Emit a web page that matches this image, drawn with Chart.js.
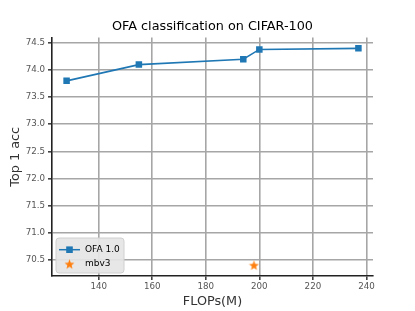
<!DOCTYPE html>
<html>
<head>
<meta charset="utf-8">
<script src="https://cdn.jsdelivr.net/npm/chart.js@4/dist/chart.umd.min.js"></script>
<style>
html,body{margin:0;padding:0;background:#fff;}
canvas{display:block;}
</style>
</head>
<body>
<canvas id="c" width="415" height="311"></canvas>
<script>
// ---- data ----
const ofaLabel = 'OFA 1.0';
const ofaFlops = [128, 155, 194, 200, 237];
const ofaAcc = [73.8, 74.1, 74.2, 74.38, 74.4];
const mbv3Label = 'mbv3';
const mbv3Flops = [198];
const mbv3Acc = [70.4];
const xTicks = [140, 160, 180, 200, 220, 240];
const yTicks = [70.5, 71.0, 71.5, 72.0, 72.5, 73.0, 73.5, 74.0, 74.5];
const titleText = 'OFA classification on CIFAR-100';
const xTitle = 'FLOPs(M)';
const yTitle = 'Top 1 acc';

// ---- styles ----
const FONT = '"DejaVu Sans", sans-serif';
const BLUE = '#1f77b4';
const ORANGE = '#ff7f0e';

// matplotlib-like 5% margins
const allX = ofaFlops.concat(mbv3Flops), allY = ofaAcc.concat(mbv3Acc);
const xmin0 = Math.min(...allX), xmax0 = Math.max(...allX);
const ymin0 = Math.min(...allY), ymax0 = Math.max(...allY);
const xm = (xmax0 - xmin0) * 0.05, ym = (ymax0 - ymin0) * 0.05;

function makeStar(size, color) {
  const c = document.createElement('canvas');
  c.width = size; c.height = size;
  const g = c.getContext('2d');
  const cx = size / 2, cy = size / 2 + 0.5, R = size / 2 - 0.3, r = R * 0.42;
  g.beginPath();
  for (let i = 0; i < 10; i++) {
    const ang = -Math.PI / 2 + i * Math.PI / 5;
    const rad = i % 2 === 0 ? R : r;
    const px = cx + rad * Math.cos(ang), py = cy + rad * Math.sin(ang);
    if (i === 0) g.moveTo(px, py); else g.lineTo(px, py);
  }
  g.closePath();
  g.fillStyle = color;
  g.fill();
  return c;
}
const starImg = makeStar(11, ORANGE);

const customPlugin = {
  id: 'custom',
  afterDraw(chart) {
    const ctx = chart.ctx;
    const ca = chart.chartArea;
    ctx.save();
    // title
    ctx.fillStyle = '#000';
    ctx.font = '12.8px ' + FONT;
    ctx.textAlign = 'center';
    ctx.textBaseline = 'middle';
    ctx.fillText(titleText, (ca.left + ca.right) / 2, 27);
    // legend
    const lx = 56, ly = 238, lw = 68, lh = 35, rr = 3;
    ctx.beginPath();
    ctx.moveTo(lx + rr, ly);
    ctx.arcTo(lx + lw, ly, lx + lw, ly + lh, rr);
    ctx.arcTo(lx + lw, ly + lh, lx, ly + lh, rr);
    ctx.arcTo(lx, ly + lh, lx, ly, rr);
    ctx.arcTo(lx, ly, lx + lw, ly, rr);
    ctx.closePath();
    ctx.fillStyle = 'rgba(229,229,229,0.92)';
    ctx.fill();
    ctx.strokeStyle = '#d0d0d0';
    ctx.lineWidth = 1;
    ctx.stroke();
    // entries
    const y1 = 249.7, y2 = 264;
    ctx.strokeStyle = BLUE;
    ctx.lineWidth = 1.5;
    ctx.beginPath();
    ctx.moveTo(59, y1); ctx.lineTo(80, y1); ctx.stroke();
    ctx.fillStyle = BLUE;
    ctx.fillRect(69.5 - 3.3, y1 - 3.3, 6.6, 6.6);
    ctx.drawImage(starImg, 69.5 - starImg.width / 2, y2 - starImg.height / 2);
    ctx.fillStyle = '#000';
    ctx.font = '9px ' + FONT;
    ctx.textAlign = 'left';
    ctx.textBaseline = 'middle';
    ctx.fillText(chart.data.datasets[0].label, 85, y1);
    ctx.fillText(chart.data.datasets[1].label, 85, y2);
    ctx.restore();
  }
};

new Chart(document.getElementById('c'), {
  type: 'scatter',
  data: {
    datasets: [
      {
        label: ofaLabel,
        data: ofaFlops.map((x, i) => ({x: x, y: ofaAcc[i]})),
        showLine: true,
        borderColor: BLUE,
        backgroundColor: BLUE,
        borderWidth: 1.6,
        pointStyle: 'rect',
        pointRadius: 4.6,
        pointBorderWidth: 0,
        pointBackgroundColor: BLUE,
        tension: 0
      },
      {
        label: mbv3Label,
        data: mbv3Flops.map((x, i) => ({x: x, y: mbv3Acc[i]})),
        showLine: false,
        pointStyle: starImg,
        pointRadius: 5,
        backgroundColor: ORANGE,
        borderColor: ORANGE
      }
    ]
  },
  options: {
    responsive: false,
    animation: false,
    devicePixelRatio: 1,
    layout: { padding: { left: 0, right: 42, top: 37.5, bottom: 0 } },
    plugins: {
      legend: { display: false },
      tooltip: { enabled: false },
      title: { display: false }
    },
    scales: {
      x: {
        type: 'linear',
        min: xmin0 - xm,
        max: xmax0 + xm,
        afterBuildTicks: s => { s.ticks = xTicks.map(v => ({value: v})); },
        afterFit: s => { s.height = 35; },
        ticks: {
          color: '#555',
          font: { family: FONT, size: 8.7 },
          padding: 2,
          maxRotation: 0,
          autoSkip: false,
          callback: v => String(v)
        },
        grid: { color: '#a6a6a6', lineWidth: 1.6, tickLength: 4, tickColor: '#444', drawTicks: true },
        border: { display: true, color: '#222', width: 1.6 },
        title: {
          display: true,
          text: xTitle,
          color: '#333',
          font: { family: FONT, size: 12.8 },
          padding: { top: 0, bottom: 2 }
        }
      },
      y: {
        type: 'linear',
        min: ymin0 - ym,
        max: ymax0 + ym,
        afterBuildTicks: s => { s.ticks = yTicks.map(v => ({value: v})); },
        afterFit: s => { s.width = 52; },
        ticks: {
          color: '#555',
          font: { family: FONT, size: 8.7 },
          padding: 3,
          autoSkip: false,
          callback: v => Number(v).toFixed(1)
        },
        grid: { color: '#a6a6a6', lineWidth: 1.6, tickLength: 4, tickColor: '#444', drawTicks: true },
        border: { display: true, color: '#222', width: 1.6 },
        title: {
          display: true,
          text: yTitle,
          color: '#333',
          font: { family: FONT, size: 12.8 },
          padding: { top: 8, bottom: 0 }
        }
      }
    }
  },
  plugins: [customPlugin]
});
</script>
</body>
</html>
